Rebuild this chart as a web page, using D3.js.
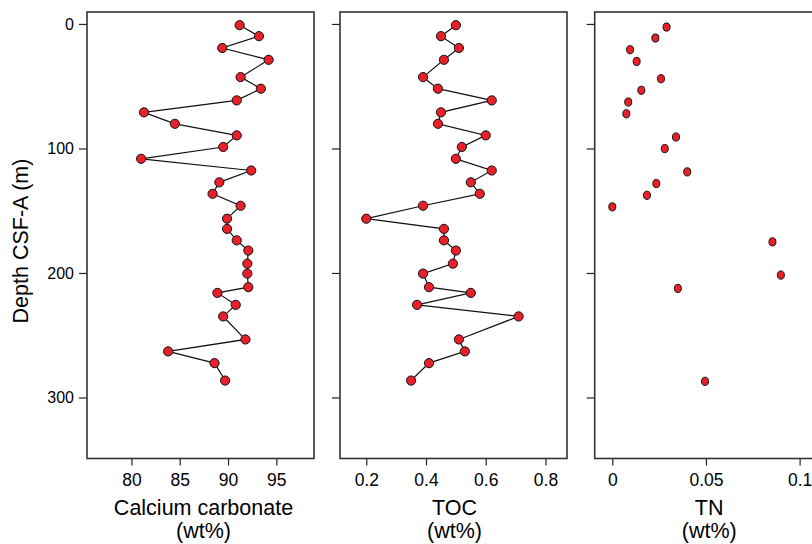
<!DOCTYPE html>
<html>
<head>
<meta charset="utf-8">
<style>
body { margin: 0; background: #fff; }
svg text { font-family: "Liberation Sans", Arial, sans-serif; }
</style>
</head>
<body>
<svg width="812" height="544"></svg>
<script src="https://cdn.jsdelivr.net/npm/d3@7"></script>
<script>

// depth of the samples shared by calcium carbonate and TOC
var depth = [1, 9.8, 19.3, 28.8, 42.7, 52, 61.4, 71, 80.2, 89.5, 98.8, 108.3, 117.7, 127.2, 136.4,
             146, 156.4, 164.6, 173.8, 182, 192.5, 200.5, 211.4, 216, 225.6, 234.9, 253.4, 263, 272.4, 286.4];
var caco3 = [91.2, 93.2, 89.4, 94.2, 91.3, 93.4, 90.9, 81.3, 84.5, 90.9, 89.5, 81.0, 92.4, 89.1, 88.4,
             91.3, 89.9, 89.9, 90.9, 92.1, 92.0, 92.0, 92.1, 88.9, 90.8, 89.5, 91.8, 83.8, 88.6, 89.7];
var toc = [0.50, 0.45, 0.51, 0.46, 0.39, 0.44, 0.62, 0.45, 0.44, 0.60, 0.52, 0.50, 0.62, 0.55, 0.58,
           0.39, 0.20, 0.46, 0.46, 0.50, 0.49, 0.39, 0.41, 0.55, 0.37, 0.71, 0.51, 0.53, 0.41, 0.35];

// TN has its own sample depths
var tnDepth = [2.5, 11.3, 20.7, 30.1, 44, 53.3, 62.7, 72.1, 90.8, 100.1, 118.8, 128.2, 137.6, 146.9, 175, 201.7, 212.4, 287];
var tn = [0.029, 0.023, 0.0095, 0.013, 0.026, 0.0155, 0.0085, 0.0075, 0.034, 0.028, 0.040, 0.0235,
          0.0185, 0.0, 0.0855, 0.090, 0.035, 0.0495];

var depthTicks = [0, 100, 200, 300];
var caco3Ticks = [80, 85, 90, 95];
var tocTicks = [0.2, 0.4, 0.6, 0.8];
var tnTicks = [0, 0.05, 0.1];

var svg = d3.select("svg");
var plotTop = 12, plotBottom = 458.5, panelW = 227;

var y = d3.scaleLinear().domain([-9.6, 349]).range([plotTop, plotBottom]);

var panels = [
  {left: 87, domain: [75.4, 98.9], ticks: caco3Ticks, fmt: d3.format("d"), title: "Calcium carbonate",
   xs: caco3, ys: depth, line: true},
  {left: 340, domain: [0.112, 0.872], ticks: tocTicks, fmt: d3.format(".1f"), title: "TOC",
   xs: toc, ys: depth, line: true},
  {left: 594.7, domain: [-0.0094, 0.1118], ticks: tnTicks, fmt: function(d){ return d === 0 ? "0" : String(d); },
   title: "TN", xs: tn, ys: tnDepth, line: false}
];

panels.forEach(function(p, i){
  var x = d3.scaleLinear().domain(p.domain).range([p.left, p.left + panelW]);
  var g = svg.append("g");

  // y axis ticks on every panel, labels only on the first
  var ya = d3.axisLeft(y).tickValues(depthTicks).tickSize(8).tickPadding(5);
  if (i > 0) ya.tickFormat("");
  g.append("g")
    .attr("transform", "translate(" + p.left + ",0)")
    .call(ya)
    .call(function(s){ s.select(".domain").remove(); })
    .selectAll("text").style("font-size", "16px").attr("fill", "#000");

  // x axis
  g.append("g")
    .attr("transform", "translate(0," + plotBottom + ")")
    .call(d3.axisBottom(x).tickValues(p.ticks).tickFormat(p.fmt).tickSize(7).tickPadding(8))
    .call(function(s){ s.select(".domain").remove(); })
    .selectAll("text").style("font-size", "17.5px").attr("fill", "#000");

  g.selectAll(".tick line").attr("stroke", "#222").attr("stroke-width", 1.2);

  // panel frame
  g.append("rect")
    .attr("x", p.left).attr("y", plotTop)
    .attr("width", panelW).attr("height", plotBottom - plotTop)
    .attr("fill", "none").attr("stroke", "#333").attr("stroke-width", 1.6);

  var pts = p.xs.map(function(v, k){ return [v, p.ys[k]]; });

  if (p.line) {
    g.append("path")
      .datum(pts)
      .attr("fill", "none").attr("stroke", "#111").attr("stroke-width", 1.2)
      .attr("d", d3.line().x(function(d){ return x(d[0]); }).y(function(d){ return y(d[1]); }));
    g.selectAll("circle").data(pts).enter().append("circle")
      .attr("cx", function(d){ return x(d[0]); })
      .attr("cy", function(d){ return y(d[1]); })
      .attr("r", 4.6)
      .attr("fill", "#e8202a").attr("stroke", "#111").attr("stroke-width", 1);
  } else {
    g.selectAll("ellipse").data(pts).enter().append("ellipse")
      .attr("cx", function(d){ return x(d[0]); })
      .attr("cy", function(d){ return y(d[1]); })
      .attr("rx", 3.5).attr("ry", 4.1)
      .attr("fill", "#e8202a").attr("stroke", "#111").attr("stroke-width", 1);
  }

  // axis titles
  var cx = p.left + panelW / 2 + (i === 0 ? 3 : 1);
  svg.append("text").attr("x", cx).attr("y", 515).attr("text-anchor", "middle")
    .style("font-size", "21.5px").text(p.title);
  svg.append("text").attr("x", cx).attr("y", 538).attr("text-anchor", "middle")
    .style("font-size", "21.5px").text("(wt%)");
});

svg.append("text")
  .attr("transform", "translate(28,241) rotate(-90)")
  .attr("text-anchor", "middle")
  .style("font-size", "21.5px")
  .text("Depth CSF-A (m)");

</script>
</body>
</html>
